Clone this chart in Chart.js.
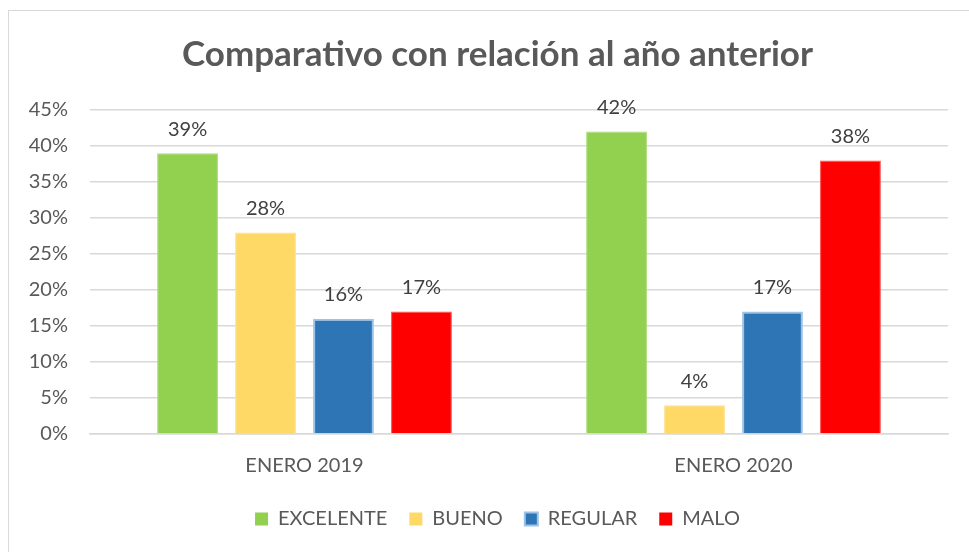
<!DOCTYPE html>
<html>
<head>
<meta charset="utf-8">
<script src="https://cdn.jsdelivr.net/npm/chart.js@4"></script>
<style>
  html, body { margin: 0; padding: 0; background: #fff; }
  #wrap { position: relative; width: 969px; height: 552px; overflow: hidden; }
  #frame { position: absolute; left: 8px; top: 10px; width: 980px; height: 560px; border: 1px solid #d9d9d9; }
  canvas { position: absolute; left: 0; top: 0; }
</style>
</head>
<body>
<div id="wrap">
  <div id="frame"></div>
  <canvas id="chart" width="969" height="552"></canvas>
</div>
<script>
// Chart data
const categories = ['ENERO 2019', 'ENERO 2020'];
const seriesNames = ['EXCELENTE', 'BUENO', 'REGULAR', 'MALO'];
const excelente = [39, 42];
const bueno = [28, 4];
const regular = [16, 17];
const malo = [17, 38];
const yTicks = [0, 5, 10, 15, 20, 25, 30, 35, 40, 45];

const FONT = 'Lato, "Open Sans", sans-serif';
const TEXT = '#595959';

// Draws "NN%" above each bar (no datalabels plugin available)
const barLabels = {
  id: 'barLabels',
  afterDatasetsDraw(chart) {
    const ctx = chart.ctx;
    ctx.save();
    ctx.font = `20px ${FONT}`;
    ctx.fillStyle = '#404040';
    ctx.textAlign = 'center';
    ctx.textBaseline = 'middle';
    chart.data.datasets.forEach((ds, i) => {
      const meta = chart.getDatasetMeta(i);
      meta.data.forEach((bar, j) => {
        ctx.fillText(ds.data[j] + '%', bar.x, bar.y - 24);
      });
    });
    ctx.restore();
  },
};

const ds = (label, data, color, border, bw) => ({
  label,
  data,
  backgroundColor: color,
  borderColor: border,
  borderWidth: bw,
  borderSkipped: 'bottom',
  categoryPercentage: 0.727,
  barPercentage: 0.78,
});

new Chart(document.getElementById('chart'), {
  type: 'bar',
  data: {
    labels: categories,
    datasets: [
      ds(seriesNames[0], excelente, '#92D050', '#A9DB78', 1),
      ds(seriesNames[1], bueno, '#FFD966', '#FFE08A', 1),
      ds(seriesNames[2], regular, '#2E75B6', '#9DC3E6', 2),
      ds(seriesNames[3], malo, '#FF0000', '#FF4D4D', 1),
    ],
  },
  options: {
    responsive: false,
    animation: false,
    // left padding offsets title/legend centre to match the original
    layout: { padding: { left: 26, right: 0, top: 34, bottom: 13 } },
    plugins: {
      title: {
        display: true,
        text: 'Comparativo con relación al año anterior',
        color: TEXT,
        font: { family: FONT, size: 35, weight: 'bold' },
        padding: { top: 0, bottom: 34 },
      },
      legend: {
        position: 'bottom',
        labels: {
          color: TEXT,
          font: { family: FONT, size: 20 },
          boxWidth: 13,
          boxHeight: 13,
          padding: 22,
          generateLabels: (chart) =>
            chart.data.datasets.map((d, i) => ({
              text: d.label,
              fillStyle: d.backgroundColor,
              strokeStyle: d.borderColor,
              lineWidth: i === 2 ? 2 : 0,
              fontColor: TEXT,
              datasetIndex: i,
            })),
        },
      },
      tooltip: { enabled: false },
    },
    scales: {
      x: {
        grid: { display: false },
        border: { color: '#d9d9d9', width: 1.5 },
        ticks: {
          color: TEXT,
          font: { family: FONT, size: 20 },
          padding: 12,
        },
        afterFit: (scale) => { scale.height = 53; },
      },
      y: {
        min: 0,
        max: 45,
        afterBuildTicks: (scale) => { scale.ticks = yTicks.map((v) => ({ value: v })); },
        grid: { color: '#d9d9d9', lineWidth: 1.5, drawTicks: false },
        border: { display: false },
        ticks: {
          color: TEXT,
          font: { family: FONT, size: 20 },
          padding: 22,
          callback: (v) => v + '%',
        },
        afterFit: (scale) => { scale.width = 64; },
      },
      // empty right-hand spacer so the plot ends where the original does
      yRight: {
        position: 'right',
        grid: { display: false },
        border: { display: false },
        ticks: { display: false },
        afterFit: (scale) => { scale.width = 21; },
      },
    },
  },
  plugins: [barLabels],
});
</script>
</body>
</html>
